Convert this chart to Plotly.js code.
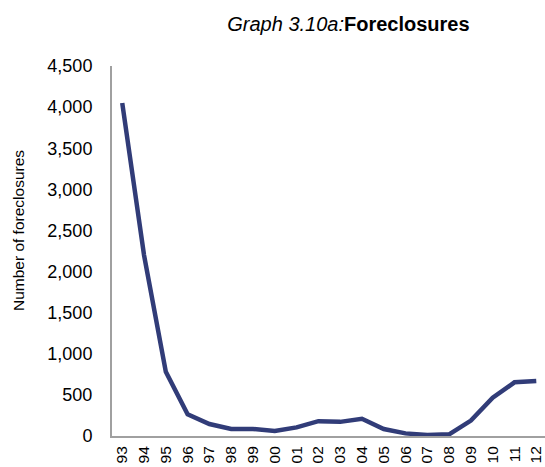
<!DOCTYPE html>
<html>
<head>
<meta charset="utf-8">
<script src="https://cdn.plot.ly/plotly-3.0.1.min.js"></script>
<style>html,body{margin:0;padding:0;background:#fff;}#chart{width:545px;height:467px;}</style>
</head>
<body>
<div id="chart"></div>
<script>
var years = ["93","94","95","96","97","98","99","00","01","02","03","04","05","06","07","08","09","10","11","12"];
var foreclosures = [4050, 2200, 780, 264, 146, 85, 85, 61, 105, 180, 172, 210, 85, 32, 12, 20, 187, 466, 653, 669];
var yTickVals = [0, 500, 1000, 1500, 2000, 2500, 3000, 3500, 4000, 4500];
var yTickText = ["0", "500", "1,000", "1,500", "2,000", "2,500", "3,000", "3,500", "4,000", "4,500"];
var yTitle = "Number of foreclosures";

var trace = {
  x: years.map(function(_, i){ return i; }),
  y: foreclosures,
  type: 'scatter',
  mode: 'lines',
  line: {color: '#313c78', width: 4.5},
  hoverinfo: 'skip'
};

var layout = {
  width: 545, height: 467,
  margin: {l: 112, r: 0, t: 66, b: 31},
  paper_bgcolor: '#ffffff', plot_bgcolor: '#ffffff',
  font: {family: 'Liberation Sans, Arial, sans-serif', color: '#000000'},
  showlegend: false,
  title: {
    text: '<i>Graph 3.10a:</i><b>Foreclosures</b>',
    font: {size: 20, color: '#000000'},
    x: 0.546, xref: 'paper', xanchor: 'center',
    y: 0.949, yref: 'container', yanchor: 'middle'
  },
  xaxis: {
    range: [-0.47, 19.4],
    tickmode: 'array',
    tickvals: years.map(function(_, i){ return i; }),
    ticktext: years,
    tickangle: -90,
    tickfont: {size: 15.5, color: '#000000'},
    ticklabeloverflow: 'allow',
    showgrid: false, zeroline: false,
    showline: true, linecolor: '#a0a0a0', linewidth: 2,
    ticks: '', ticklabelstandoff: 2
  },
  yaxis: {
    range: [0, 4500],
    tickmode: 'array',
    tickvals: yTickVals,
    ticktext: yTickText,
    tickfont: {size: 18, color: '#000000'},
    showgrid: false, zeroline: false,
    showline: true, linecolor: '#a0a0a0', linewidth: 2,
    ticks: '', ticklabelstandoff: 14
  },
  annotations: [{
    text: yTitle,
    xref: 'paper', yref: 'paper',
    x: -0.217, y: 0.554,
    xanchor: 'center', yanchor: 'middle',
    textangle: -90, showarrow: false,
    font: {size: 15.5, color: '#000000'}
  }]
};

Plotly.newPlot('chart', [trace], layout, {staticPlot: true, displayModeBar: false});
</script>
</body>
</html>
